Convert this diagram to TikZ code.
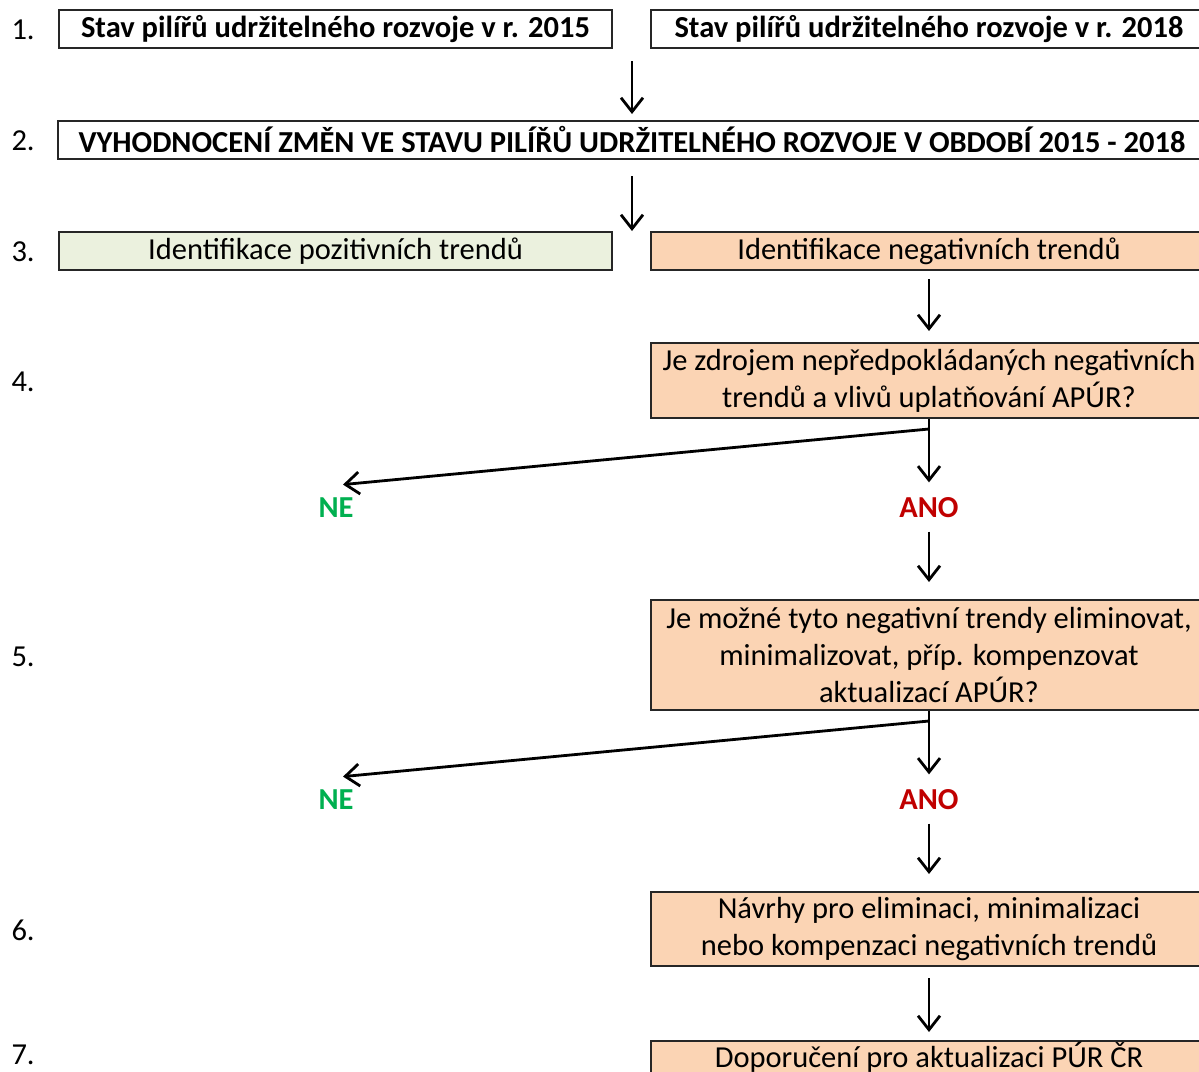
\documentclass[tikz,border=0pt]{standalone}
\usepackage{fontspec}
\setmainfont{Carlito}
\usetikzlibrary{arrows.meta}
\definecolor{zelena}{HTML}{EBF1DE}
\definecolor{oranz}{HTML}{FBD4B4}
\definecolor{ne}{HTML}{00B050}
\definecolor{ano}{HTML}{C00000}
\tikzset{
	box/.style={draw=black!85, line width=2pt, inner sep=0pt, align=center, minimum height=38pt},
	lbox/.style={box, minimum width=553pt},
	rbox/.style={box, minimum width=556pt, fill=oranz},
	odpoved/.style={font=\fontsize{30.5}{37}\selectfont\bfseries},
	arr/.style={line width=2.8pt, -{Straight Barb[length=14pt,width=22pt,line width=2.8pt]}},
	cislo/.style={anchor=west},
}
\begin{document}
\begin{tikzpicture}[x=1pt,y=-1pt,font=\fontsize{30.5}{37}\selectfont]
			\clip (0,0) rectangle (1199,1071);
			\fill[white] (0,0) rectangle (1199,1071);
			% Cisla kroku
			\node[cislo] (c1) at (8,30) {1.};
			\node[cislo] (c2) at (8,141) {2.};
			\node[cislo] (c3) at (8,252) {3.};
			\node[cislo] (c4) at (8,382) {4.};
			\node[cislo] (c5) at (8,657) {5.};
			\node[cislo] (c6) at (8,930) {6.};
			\node[cislo] (c7) at (8,1055) {7.};
			
			% Stav 2015 a 2018
			\node[lbox] (s15) at (335.5,29) {\textbf{Stav pilířů udržitelného rozvoje v r. 2015}};
			\node[rbox, fill=none] (s18) at (929,29) {\textbf{Stav pilířů udržitelného rozvoje v r. 2018}};
			\node[box, minimum width=1148pt] (vyh) at (632,140) {\textbf{VYHODNOCENÍ ZMĚN VE STAVU PILÍŘŮ UDRŽITELNÉHO ROZVOJE V OBDOBÍ 2015 - 2018}};
			
			% Trendy
			\node[lbox, fill=zelena] (poz) at (335.5,251) {Identifikace pozitivních trendů};
			\node[rbox] (neg) at (929,251) {Identifikace negativních trendů};
			\node[rbox, minimum height=75pt] (q1) at (929,380.5) {Je zdrojem nepředpokládaných negativních\\trendů a vlivů uplatňování APÚR?};
			\node[odpoved, text=ne] (ne1) at (336,508) {NE};
			\node[odpoved, text=ano] (ano1) at (929,508) {ANO};
			\node[rbox, minimum height=110pt] (q2) at (929,655) {Je možné tyto negativní trendy eliminovat,\\minimalizovat, příp. kompenzovat\\aktualizací APÚR?};
			\node[odpoved, text=ne] (ne2) at (336,800) {NE};
			\node[odpoved, text=ano] (ano2) at (929,800) {ANO};
			\node[rbox, minimum height=74pt] (nav) at (929,929) {Návrhy pro eliminaci, minimalizaci\\nebo kompenzaci negativních trendů};
			\node[rbox, anchor=north, minimum height=60pt, text depth=32pt] (dop) at (929,1040) {Doporučení pro aktualizaci PÚR ČR};
			
			% Sipky
			\draw[arr, shorten <=12pt, shorten >=6pt] (vyh.north |- s15.south) -- (vyh.north);
			\draw[arr, shorten <=16pt] (vyh.south) -- (vyh.south |- neg.north);
			\draw[arr, shorten <=8pt, shorten >=11pt] (neg.south) -- (q1.north);
			\coordinate (k1) at ([yshift=-10pt]q1.south);
			\draw[line width=2.8pt] (q1.south) -- (k1);
			\draw[arr, shorten >=12pt] (k1) -- (ano1.north);
			\draw[arr] (k1) -- ([xshift=7pt,yshift=10pt]ne1.north);
			\draw[arr, shorten <=10pt, shorten >=17pt] (ano1.south) -- (q2.north);
			\coordinate (k2) at ([yshift=-10pt]q2.south);
			\draw[line width=2.8pt] (q2.south) -- (k2);
			\draw[arr, shorten >=12pt] (k2) -- (ano2.north);
			\draw[arr] (k2) -- ([xshift=7pt,yshift=10pt]ne2.north);
			\draw[arr, shorten <=10pt, shorten >=17pt] (ano2.south) -- (nav.north);
			\draw[arr, shorten <=11pt, shorten >=8pt] (nav.south) -- (dop.north);
		\end{tikzpicture}
\end{document}
